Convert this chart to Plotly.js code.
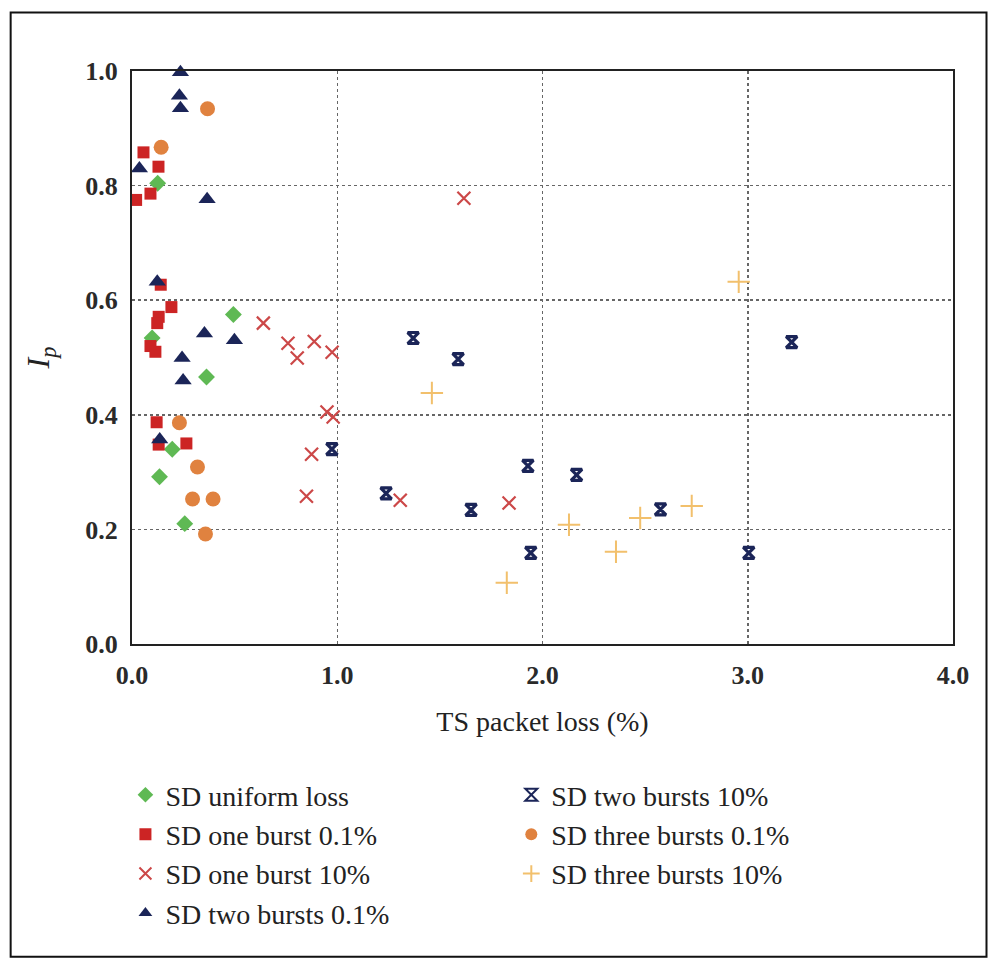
<!DOCTYPE html>
<html>
<head>
<meta charset="utf-8">
<script src="https://cdn.plot.ly/plotly-3.0.1.min.js"></script>
<style>
  html, body { margin: 0; padding: 0; background: #fff; }
  #chart { width: 995px; height: 961px; }
</style>
</head>
<body>
<div id="chart"></div>
<script>
// I_p versus TS packet loss for each loss pattern
const uniformX = [0.125, 0.098, 0.494, 0.363, 0.196, 0.134, 0.257];
const uniformY = [0.804, 0.534, 0.575, 0.466, 0.340, 0.292, 0.210];

const oneBurst01X = [0.020, 0.090, 0.056, 0.129, 0.140, 0.192, 0.130, 0.123, 0.090, 0.114, 0.120, 0.130, 0.265];
const oneBurst01Y = [0.775, 0.786, 0.858, 0.833, 0.627, 0.588, 0.571, 0.560, 0.520, 0.510, 0.387, 0.348, 0.350];

const oneBurst10X = [1.617, 0.640, 0.760, 0.888, 0.805, 0.975, 0.950, 0.980, 0.875, 0.850, 1.307, 1.837];
const oneBurst10Y = [0.778, 0.560, 0.525, 0.528, 0.499, 0.509, 0.405, 0.396, 0.331, 0.258, 0.251, 0.246];

const twoBurst01X = [0.236, 0.231, 0.236, 0.036, 0.366, 0.123, 0.353, 0.499, 0.244, 0.249, 0.135];
const twoBurst01Y = [0.998, 0.957, 0.935, 0.830, 0.776, 0.632, 0.542, 0.530, 0.499, 0.460, 0.357];

const twoBurst10X = [1.370, 1.589, 0.974, 1.238, 1.929, 2.166, 1.652, 1.943, 3.214, 2.575, 3.005];
const twoBurst10Y = [0.534, 0.497, 0.340, 0.263, 0.311, 0.295, 0.234, 0.159, 0.527, 0.235, 0.159];

const threeBurst01X = [0.368, 0.142, 0.231, 0.319, 0.295, 0.395, 0.358];
const threeBurst01Y = [0.934, 0.867, 0.386, 0.309, 0.253, 0.253, 0.192];

const threeBurst10X = [2.956, 1.461, 1.826, 2.129, 2.358, 2.476, 2.727];
const threeBurst10Y = [0.632, 0.438, 0.107, 0.208, 0.161, 0.220, 0.241];

const seriesNames = [
  'SD uniform loss', 'SD one burst 0.1%', 'SD one burst 10%', 'SD two bursts 0.1%',
  'SD two bursts 10%', 'SD three bursts 0.1%', 'SD three bursts 10%'
];

const tickVals = [0, 0.2, 0.4, 0.6, 0.8, 1.0];
const tickText = ['0.0', '0.2', '0.4', '0.6', '0.8', '1.0'];
const xTickVals = [0, 1, 2, 3, 4];
const xTickText = ['0.0', '1.0', '2.0', '3.0', '4.0'];

const serif = 'Liberation Serif, DejaVu Serif, serif';

function pts(x, y, name, marker, legend) {
  return { type: 'scatter', mode: 'markers', x: x, y: y, name: name,
           marker: marker, legend: legend, cliponaxis: false };
}

const traces = [
  pts(uniformX, uniformY, seriesNames[0],
      { symbol: 'diamond', size: 13, color: '#5fb954' }, 'legend'),
  pts(oneBurst01X, oneBurst01Y, seriesNames[1],
      { symbol: 'square', size: 12, color: '#cc2424' }, 'legend'),
  pts(oneBurst10X, oneBurst10Y, seriesNames[2],
      { symbol: 'x-thin-open', size: 13, color: '#cc4848', line: { width: 2.2, color: '#cc4848' } }, 'legend'),
  pts(twoBurst01X, twoBurst01Y, seriesNames[3],
      { symbol: 'triangle-up', size: 15, color: '#1b2558' }, 'legend'),
  pts(twoBurst10X, twoBurst10Y, seriesNames[4],
      { symbol: 'hourglass-open', size: 11, color: '#1b2558', line: { width: 3.2, color: '#1b2558' } }, 'legend2'),
  pts(threeBurst01X, threeBurst01Y, seriesNames[5],
      { symbol: 'circle', size: 15, color: '#e0823f' }, 'legend2'),
  pts(threeBurst10X, threeBurst10Y, seriesNames[6],
      { symbol: 'cross-thin-open', size: 16, color: '#f2c06c', line: { width: 2, color: '#f2c06c' } }, 'legend2')
];

const axisCommon = {
  showline: true, linecolor: '#222', linewidth: 2, mirror: true,
  zeroline: false, ticks: '', showgrid: true,
  gridcolor: '#666', gridwidth: 1.5, griddash: 'dot',
  tickfont: { family: serif, size: 26, color: '#2a2a2a', weight: 'bold' },
  ticklabelstandoff: 7
};

const legendCommon = {
  font: { family: serif, size: 28, color: '#222' },
  bgcolor: 'rgba(0,0,0,0)', borderwidth: 0,
  xanchor: 'left', yanchor: 'top', itemsizing: 'constant',
  tracegroupgap: 0, orientation: 'v'
};

const layout = {
  width: 995, height: 961,
  paper_bgcolor: '#fff', plot_bgcolor: '#fff',
  margin: { l: 131.5, r: 41.5, t: 70.5, b: 317, autoexpand: false },
  showlegend: true,
  xaxis: Object.assign({}, axisCommon, {
    range: [0, 4], tickvals: xTickVals, ticktext: xTickText,
    title: { text: 'TS packet loss (%)', font: { family: serif, size: 28, color: '#222' }, standoff: 22 }
  }),
  yaxis: Object.assign({}, axisCommon, {
    range: [0, 1], tickvals: tickVals, ticktext: tickText,
    title: { text: '<i>I</i><sub><i>p</i></sub>', font: { family: serif, size: 32, color: '#222' }, standoff: 26 }
  }),
  legend: Object.assign({}, legendCommon, { x: -0.008, y: -0.22 }),
  legend2: Object.assign({}, legendCommon, { x: 0.462, y: -0.22 }),
  shapes: [{
    type: 'rect', xref: 'paper', yref: 'paper', layer: 'above',
    x0: -0.1478, x1: 1.0408, y0: -0.5458, y1: 1.102,
    line: { color: '#111', width: 2 }, fillcolor: 'rgba(0,0,0,0)'
  }]
};

Plotly.newPlot('chart', traces, layout, { displayModeBar: false, staticPlot: true });
</script>
</body>
</html>
